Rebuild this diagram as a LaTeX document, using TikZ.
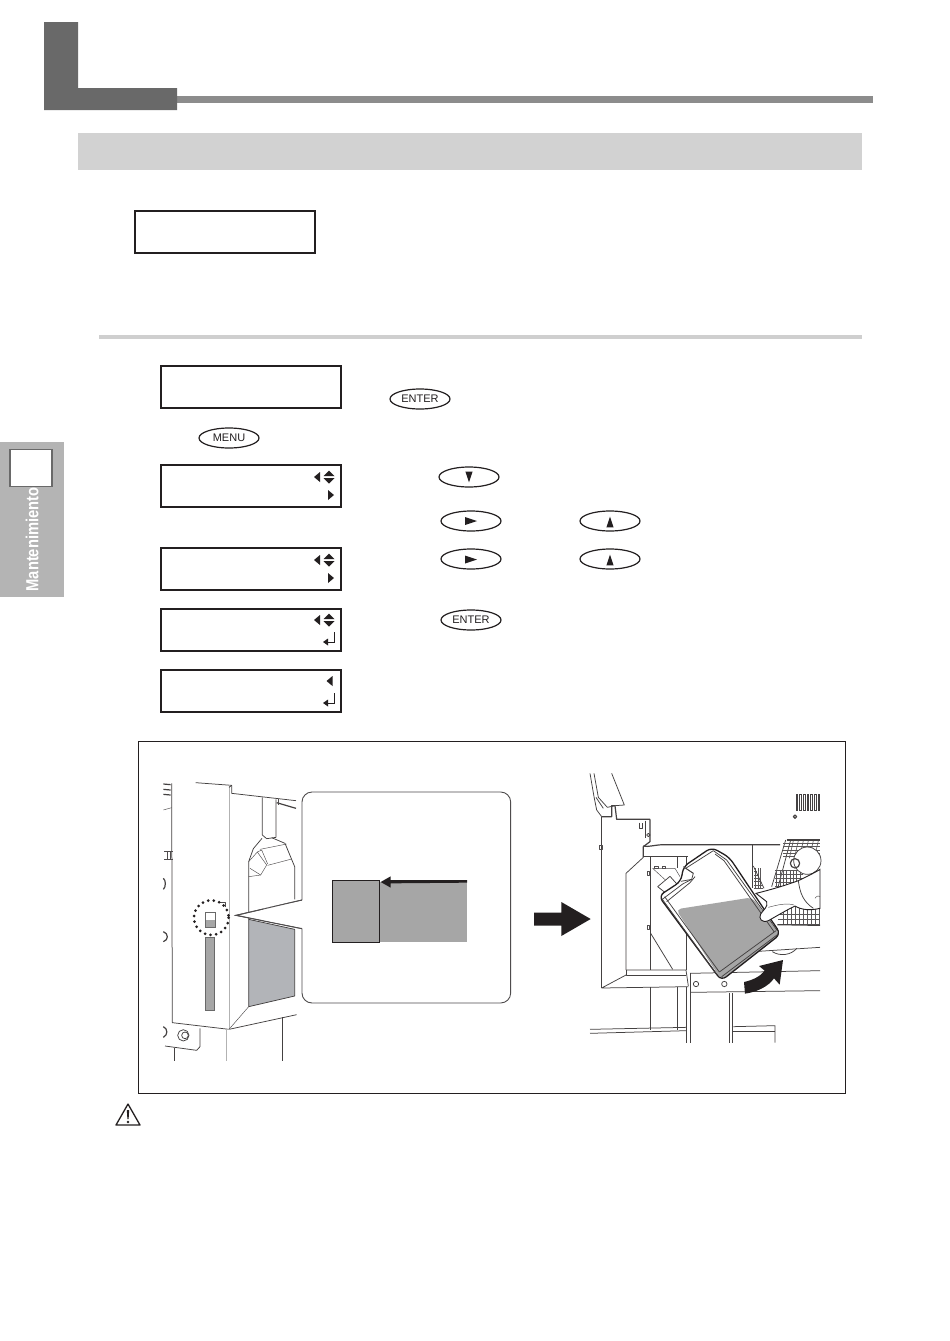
\documentclass[tikz,border=0pt]{standalone}
\usepackage{fontspec}
\setmainfont{Liberation Sans}
\usetikzlibrary{shapes.geometric}
\definecolor{headgray}{HTML}{696969}
\definecolor{rulegray}{HTML}{8C8C8C}
\definecolor{bandgray}{HTML}{D2D2D2}
\definecolor{thingray}{HTML}{CFCFCF}
\definecolor{tabgray}{HTML}{B4B4B4}
\definecolor{fillgray}{HTML}{A6A6A6}
\definecolor{slategray}{HTML}{B2B4B8}
\definecolor{ink}{HTML}{231F20}
\tikzset{
  lcd/.style={draw=ink,line width=2pt,fill=white,minimum width=180pt,minimum height=42pt,inner sep=0pt},
  keycap/.style={ellipse,draw=ink,line width=1.2pt,fill=white,minimum width=60pt,minimum height=20pt,inner sep=0pt,font=\fontsize{11}{12}\selectfont,text=ink},
  tri/.style={fill=ink,draw=none},
  ln/.style={draw=ink!85,line width=.75pt,line join=round},
  lnt/.style={draw=ink!80,line width=.45pt,line join=round},
  lnb/.style={draw=ink!85,line width=1.2pt,line join=round},
  hatch/.style={draw=ink!75,line width=.6pt},
}
\newcommand{\uptri}[3]{\fill[tri] (#1-#3,#2+#3*1.5) -- (#1+#3,#2+#3*1.5) -- (#1,#2-#3*1.5) -- cycle;}
\newcommand{\dntri}[3]{\fill[tri] (#1-#3,#2-#3*1.5) -- (#1+#3,#2-#3*1.5) -- (#1,#2+#3*1.5) -- cycle;}
\newcommand{\lttri}[2]{\fill[tri] (#1+3,#2-5) -- (#1+3,#2+5) -- (#1-3,#2) -- cycle;}
\newcommand{\rttri}[2]{\fill[tri] (#1-3,#2-5) -- (#1-3,#2+5) -- (#1+3,#2) -- cycle;}
\newcommand{\keyrt}[2]{\fill[tri] (#1-6,#2-4) -- (#1-6,#2+4) -- (#1+6,#2) -- cycle;}
\newcommand{\updown}[2]{\fill[tri] (#1-5.5,#2-1) -- (#1+5.5,#2-1) -- (#1,#2-6.5) -- cycle; \fill[tri] (#1-5.5,#2+1) -- (#1+5.5,#2+1) -- (#1,#2+6.5) -- cycle;}
\newcommand{\retsym}[2]{\draw[ink,line width=1pt] (#1+5,#2-7) -- (#1+5,#2+3) -- (#1-3,#2+3); \fill[tri] (#1-1,#2-.5) -- (#1-1,#2+6.5) -- (#1-6,#2+3) -- cycle;}
\begin{document}
\begin{tikzpicture}[x=1pt,y=-1pt]
\useasboundingbox (0,0) rectangle (950,1341);
\fill[white] (0,0) rectangle (950,1341);
% heading
\fill[rulegray] (177,96) rectangle (873,103);
\fill[headgray] (44,22) -- (78,22) -- (78,88) -- (177,88) -- (177,110) -- (44,110) -- cycle;
\fill[bandgray] (78,133) rectangle (862,170);
\node[lcd] (topbox) at (225,232) {};
\fill[thingray] (99,335) rectangle (862,339);
% side tab
\fill[tabgray] (0,442) rectangle (63.5,597);
\node[draw=headgray,line width=1.8pt,fill=white,minimum width=42pt,minimum height=37pt,inner sep=0pt] (tabbox) at (31,468) {};
\node[rotate=90,text=white,font=\bfseries\fontsize{17.5}{18}\selectfont,inner sep=0pt] (tablabel) at (32,539.5) {\scalebox{.84}[1]{Mantenimiento}};
% displays
\node[lcd] (d1) at (251,387) {};
\node[lcd] (d2) at (251,486) {};
\node[lcd] (d3) at (251,569) {};
\node[lcd] (d4) at (251,630) {};
\node[lcd] (d5) at (251,691) {};
\lttri{317}{477}\updown{329}{477}\rttri{331}{495}
\lttri{317}{560}\updown{329}{560}\rttri{331}{578}
\lttri{317}{620}\updown{329}{620}\retsym{329}{639}
\lttri{329.5}{681}\retsym{329}{700}
% keys
\node[keycap] (kenter1) at (420,399) {ENTER};
\node[keycap] (kmenu) at (229,438) {MENU};
\node[keycap] (kdown) at (469,477) {};
\node[keycap] (kright1) at (471,521) {};
\node[keycap] (kup1) at (610,521) {};
\node[keycap] (kright2) at (471,559) {};
\node[keycap] (kup2) at (610,559) {};
\node[keycap] (kenter2) at (471,620) {ENTER};
\dntri{469}{477}{3.6}
\keyrt{471}{521}\uptri{610}{522}{3.6}
\keyrt{471}{559.5}\uptri{610}{560}{3.6}
% figure frame
\draw[ink,line width=.8pt] (138,741.5) rectangle (845,1093.5);
% ---- left illustration (coordinates of a 3x crop at 130,760)
\begin{scope}[shift={(130,760)},x=.33333pt,y=-.33333pt]
\fill[slategray] (356,478) -- (494,508) -- (494,708) -- (356,740) -- cycle;
\draw[ln] (125,70) -- (127,788) -- (297,808) -- (500,764);
\draw[ln] (197,68) -- (305,76) -- (305,100) -- (498,122);
\draw[draw=gray!60,line width=1pt] (297,75) -- (297,808) -- (289,808) -- (289,904);
\draw[ln] (305,76) -- (297,82);
\draw[ln] (397,112) -- (397,225) -- (410,236) -- (438,232) -- (438,118);
\draw[ln] (396,235) -- (370,266) -- (356,305) -- (356,478);
\draw[ln] (425,233) -- (465,250) -- (494,320) -- (494,418);
\draw[lnt] (390,268) -- (470,252);
\draw[lnt] (413,316) -- (485,297);
\draw[lnt] (356,305) -- (382,276) -- (410,315) -- (392,345) -- (356,350);
\draw[lnt] (382,276) -- (395,270) -- (413,312);
\draw[lnt] (360,325) -- (392,345);
\draw[ln] (356,478) -- (494,508) -- (494,708) -- (356,740) -- cycle;
\draw[lnt] (356,740) -- (297,808);
\draw[lnb] (440,128) -- (498,145);
\draw[lnt] (445,118) -- (445,135);
\draw[lnb] (100,72) -- (122,74);
\draw[lnb] (100,88) -- (122,90);
\draw[lnb] (100,103) -- (122,105);
\draw[lnt] (100,150) -- (125,143);
\draw[lnt] (103,275) -- (128,275); \draw[lnt] (103,298) -- (128,298);
\draw[lnt] (111,276) -- (111,300); \draw[lnt] (120,276) -- (120,300);
\draw[lnb] (100,355) .. controls (108,360) and (108,382) .. (100,388);
\draw[lnb] (100,515) .. controls (116,520) and (116,540) .. (100,545);
\draw[lnb] (100,800) .. controls (114,806) and (114,825) .. (100,832);
\draw[ln] (210,805) -- (210,860) -- (200,871) -- (105,858);
\draw[ln] (133,864) -- (133,904);
\draw[ln] (457,772) -- (457,904);
\draw[ln] (160,826) circle (17);
\draw[ln] (165,826) circle (10);
% slots
\fill[fillgray] (226,532) rectangle (252,752);
\draw[draw=headgray,line width=.9pt] (226,532) rectangle (252,752);
\fill[fillgray] (227,480) rectangle (256,503);
\draw[draw=headgray,line width=.9pt] (227,456) rectangle (256,503);
\draw[lnt] (270,428) -- (286,428) -- (286,440);
\draw[ink,line width=3pt,line cap=round,dash pattern=on 0pt off 5.6pt] (244,473) circle (52);
% callout
\path[draw=ink!80,line width=.9pt,fill=white] (318,466) -- (516,420) -- (516,506) -- cycle;
\fill[white] (500,425) rectangle (530,500);
\path[draw=ink!80,line width=.9pt,fill=white,rounded corners=10pt] (516,420) -- (516,96) -- (1142,96) -- (1142,729) -- (516,729) -- (516,506);
\fill[white] (400,445) -- (520,422) -- (520,504) -- (400,481) -- cycle;
\draw[draw=ink!80,line width=.9pt] (516,420) -- (318,466) -- (516,506);
\fill[fillgray] (749,365) rectangle (1011,545);
\draw[ink,line width=.8pt,fill=fillgray] (607,361) rectangle (749,548);
\fill[ink] (752,366) -- (782,349) -- (782,360) -- (1011,360) -- (1011,368) -- (782,370) -- (782,383) -- cycle;
\end{scope}
% ---- right illustration (coordinates of a 3x crop at 520,760)
\begin{scope}[shift={(520,760)},x=.33333pt,y=-.33333pt]
% upper-left cover
\draw[ln] (210,40) -- (222,110) -- (230,150) -- (245,170);
\draw[ln] (222,40) -- (235,112) -- (262,142) -- (285,137);
\draw[ln] (228,112) -- (250,145);
\draw[ln] (275,40) -- (313,135) -- (285,137);
\draw[lnb] (245,170) -- (275,170) -- (275,137) -- (285,137) -- (290,178) -- (390,178);
\draw[lnb] (390,178) -- (390,245) -- (370,260) -- (370,292);
\draw[ln] (358,188) -- (358,205) -- (366,205) -- (366,188);
\draw[lnb] (376,182) -- (376,235);
\draw[ln] (385,225) circle (5);
% body
\draw[lnb] (245,170) -- (245,684);
\draw[ln] (370,292) -- (318,340) -- (318,630);
\draw[ln] (318,630) -- (498,630) -- (505,678);
\draw[ln] (318,630) -- (318,645) -- (498,645);
\draw[ln] (318,645) -- (245,684) -- (505,680);
\draw[lnb] (370,258) .. controls (385,262) and (400,255) .. (430,254) -- (780,254);
\draw[ln] (370,288) -- (505,288);
\draw[ln] (392,290) -- (392,630);
\draw[ln] (392,682) -- (392,810);
\draw[ln] (472,290) -- (472,325);
\draw[ln] (472,682) -- (472,810);
\draw[ln] (498,290) -- (498,630);
\draw[ln] (392,520) -- (458,628);
\draw[ln] (498,680) -- (498,848);
\draw[ln] (510,640) -- (510,848);
\draw[ln] (628,700) -- (628,848);
\draw[ln] (637,700) -- (637,848);
\draw[ln] (510,697) -- (900,692);
\draw[ln] (510,640) -- (900,632);
\draw[ln] (700,575) -- (900,562);
\draw[ln] (210,808) -- (500,802); \draw[ln] (210,820) -- (500,812);
\draw[ln] (640,800) -- (765,797) -- (765,848); \draw[ln] (640,815) -- (765,815);
\draw[ln] (757,575) .. controls (780,590) and (815,585) .. (830,565);
\draw[ln] (528,672) circle (8);
\draw[lnt] (239,255) rectangle (246,268);
\draw[lnt] (381,335) rectangle (389,347);
\draw[lnt] (381,495) rectangle (389,507);
\draw[lnb] (825,170) circle (5);
\foreach \xx in {828,839,850,861,872,883,894} {\draw[ink!85,line width=.8pt] (\xx,102) rectangle (\xx+5,152);}
% fan area
\draw[ln] (698,256) -- (698,385);
\foreach \yy in {325,335,345,355,365,375,385} {\draw[hatch] (702,\yy) -- (700+\yy/3-100,\yy);}
\foreach \xx in {706,714,722} {\draw[hatch] (\xx,325) -- (\xx,385);}
\draw[ln] (700,318) -- (732,385);
\draw[lnb] (800,240) -- (900,240);
\draw[ln] (797,240) -- (755,380);
\draw[ln] (812,240) -- (775,378);
\foreach \yy in {250,260,270,280,290} {\draw[hatch] (790,\yy) -- (900,\yy);}
\foreach \xx in {820,835,850,865,880,895} {\draw[hatch] (\xx,242) -- (\xx-12,295);}
\foreach \yy in {330,342,354,366,378} {\draw[hatch] (765,\yy) -- (850,\yy);}
\foreach \xx in {770,780,790,800,810,820,830,840} {\draw[hatch] (\xx,330) -- (\xx,378);}
\fill[white] (862,302) circle (41);
\draw[ln] (862,302) circle (41);
\draw[lnb] (825,310) circle (14);
\foreach \xx in {790,802,814,826,838,850,862,874,886,898} {\draw[hatch] (\xx,438) -- (\xx,495);}
\foreach \yy in {462,478,492} {\draw[hatch] (775,\yy) -- (900,\yy);}
\draw[lnb] (772,494) -- (900,496);
% bottle cap and tube
\draw[lnt] (398,325) -- (445,368);
\draw[lnt] (398,325) -- (465,325) -- (480,350);
\draw[lnt] (404,318) rectangle (414,326); \draw[lnt] (426,318) rectangle (436,326);
\draw[ln,fill=white] (413,380) -- (450,349) -- (476,378) -- (445,405) -- cycle;
% bottle
\path[fill=white,rounded corners=6pt] (416,408) -- (483,364) -- (490,320) -- (575,262) -- (628,292) -- (782,522) -- (604,662) -- cycle;
\path[fill=fillgray,rounded corners=5pt] (468,448) -- (697,412) -- (781,525) -- (604,660) -- cycle;
\path[draw=ink,line width=1.3pt,rounded corners=6pt] (416,408) -- (483,364) -- (490,320) -- (575,262) -- (628,292) -- (782,522) -- (604,662) -- cycle;
\draw[ln] (425,415) -- (592,645);
\draw[ln] (434,410) -- (598,636);
\draw[ln] (427,418) -- (488,372) -- (515,358) -- (520,340) -- (497,325) -- (580,272) -- (620,300) -- (772,512);
\draw[ln] (440,425) -- (510,368) -- (525,350);
\draw[ln] (585,282) -- (612,302) -- (762,515);
\draw[ln] (598,636) -- (768,512);
\draw[ln] (605,650) -- (775,522);
\draw[ln] (490,320) -- (520,340);
\draw[ln] (483,364) -- (515,358);
\draw[ln,fill=white] (613,672) circle (8);
% hand
\path[draw=ink,line width=.9pt,fill=white] (708,400) .. controls (750,390) and (800,375) .. (835,362) .. controls (860,350) and (890,335) .. (900,328) -- (900,445) .. controls (870,452) and (845,450) .. (825,438) .. controls (800,450) and (770,468) .. (745,482) .. controls (725,490) and (715,475) .. (722,462) .. controls (730,450) and (745,440) .. (740,425) -- cycle;
\draw[ln] (835,362) .. controls (840,400) and (850,425) .. (880,445);
\draw[lnt] (885,415) .. controls (890,405) and (900,408) .. (900,410);
\draw[lnt] (745,442) .. controls (770,435) and (800,428) .. (822,435);
% arrows
\fill[ink] (42,458) -- (124,458) -- (124,426) -- (212,477) -- (124,528) -- (124,497) -- (42,497) -- cycle;
\fill[ink] (672,666) .. controls (700,660) and (722,648) .. (734,632) -- (717,618) -- (789,600) -- (779,674) -- (762,655) .. controls (745,680) and (710,696) .. (675,701) -- cycle;
\end{scope}
% warning icon
\draw[ink,line width=1.3pt,line join=round] (128,1104) -- (116,1125) -- (140,1125) -- cycle;
\fill[ink] (126.8,1110) -- (129.2,1110) -- (128.6,1119) -- (127.4,1119) -- cycle;
\fill[ink] (128,1122) circle (1.3);
\end{tikzpicture}
\end{document}
